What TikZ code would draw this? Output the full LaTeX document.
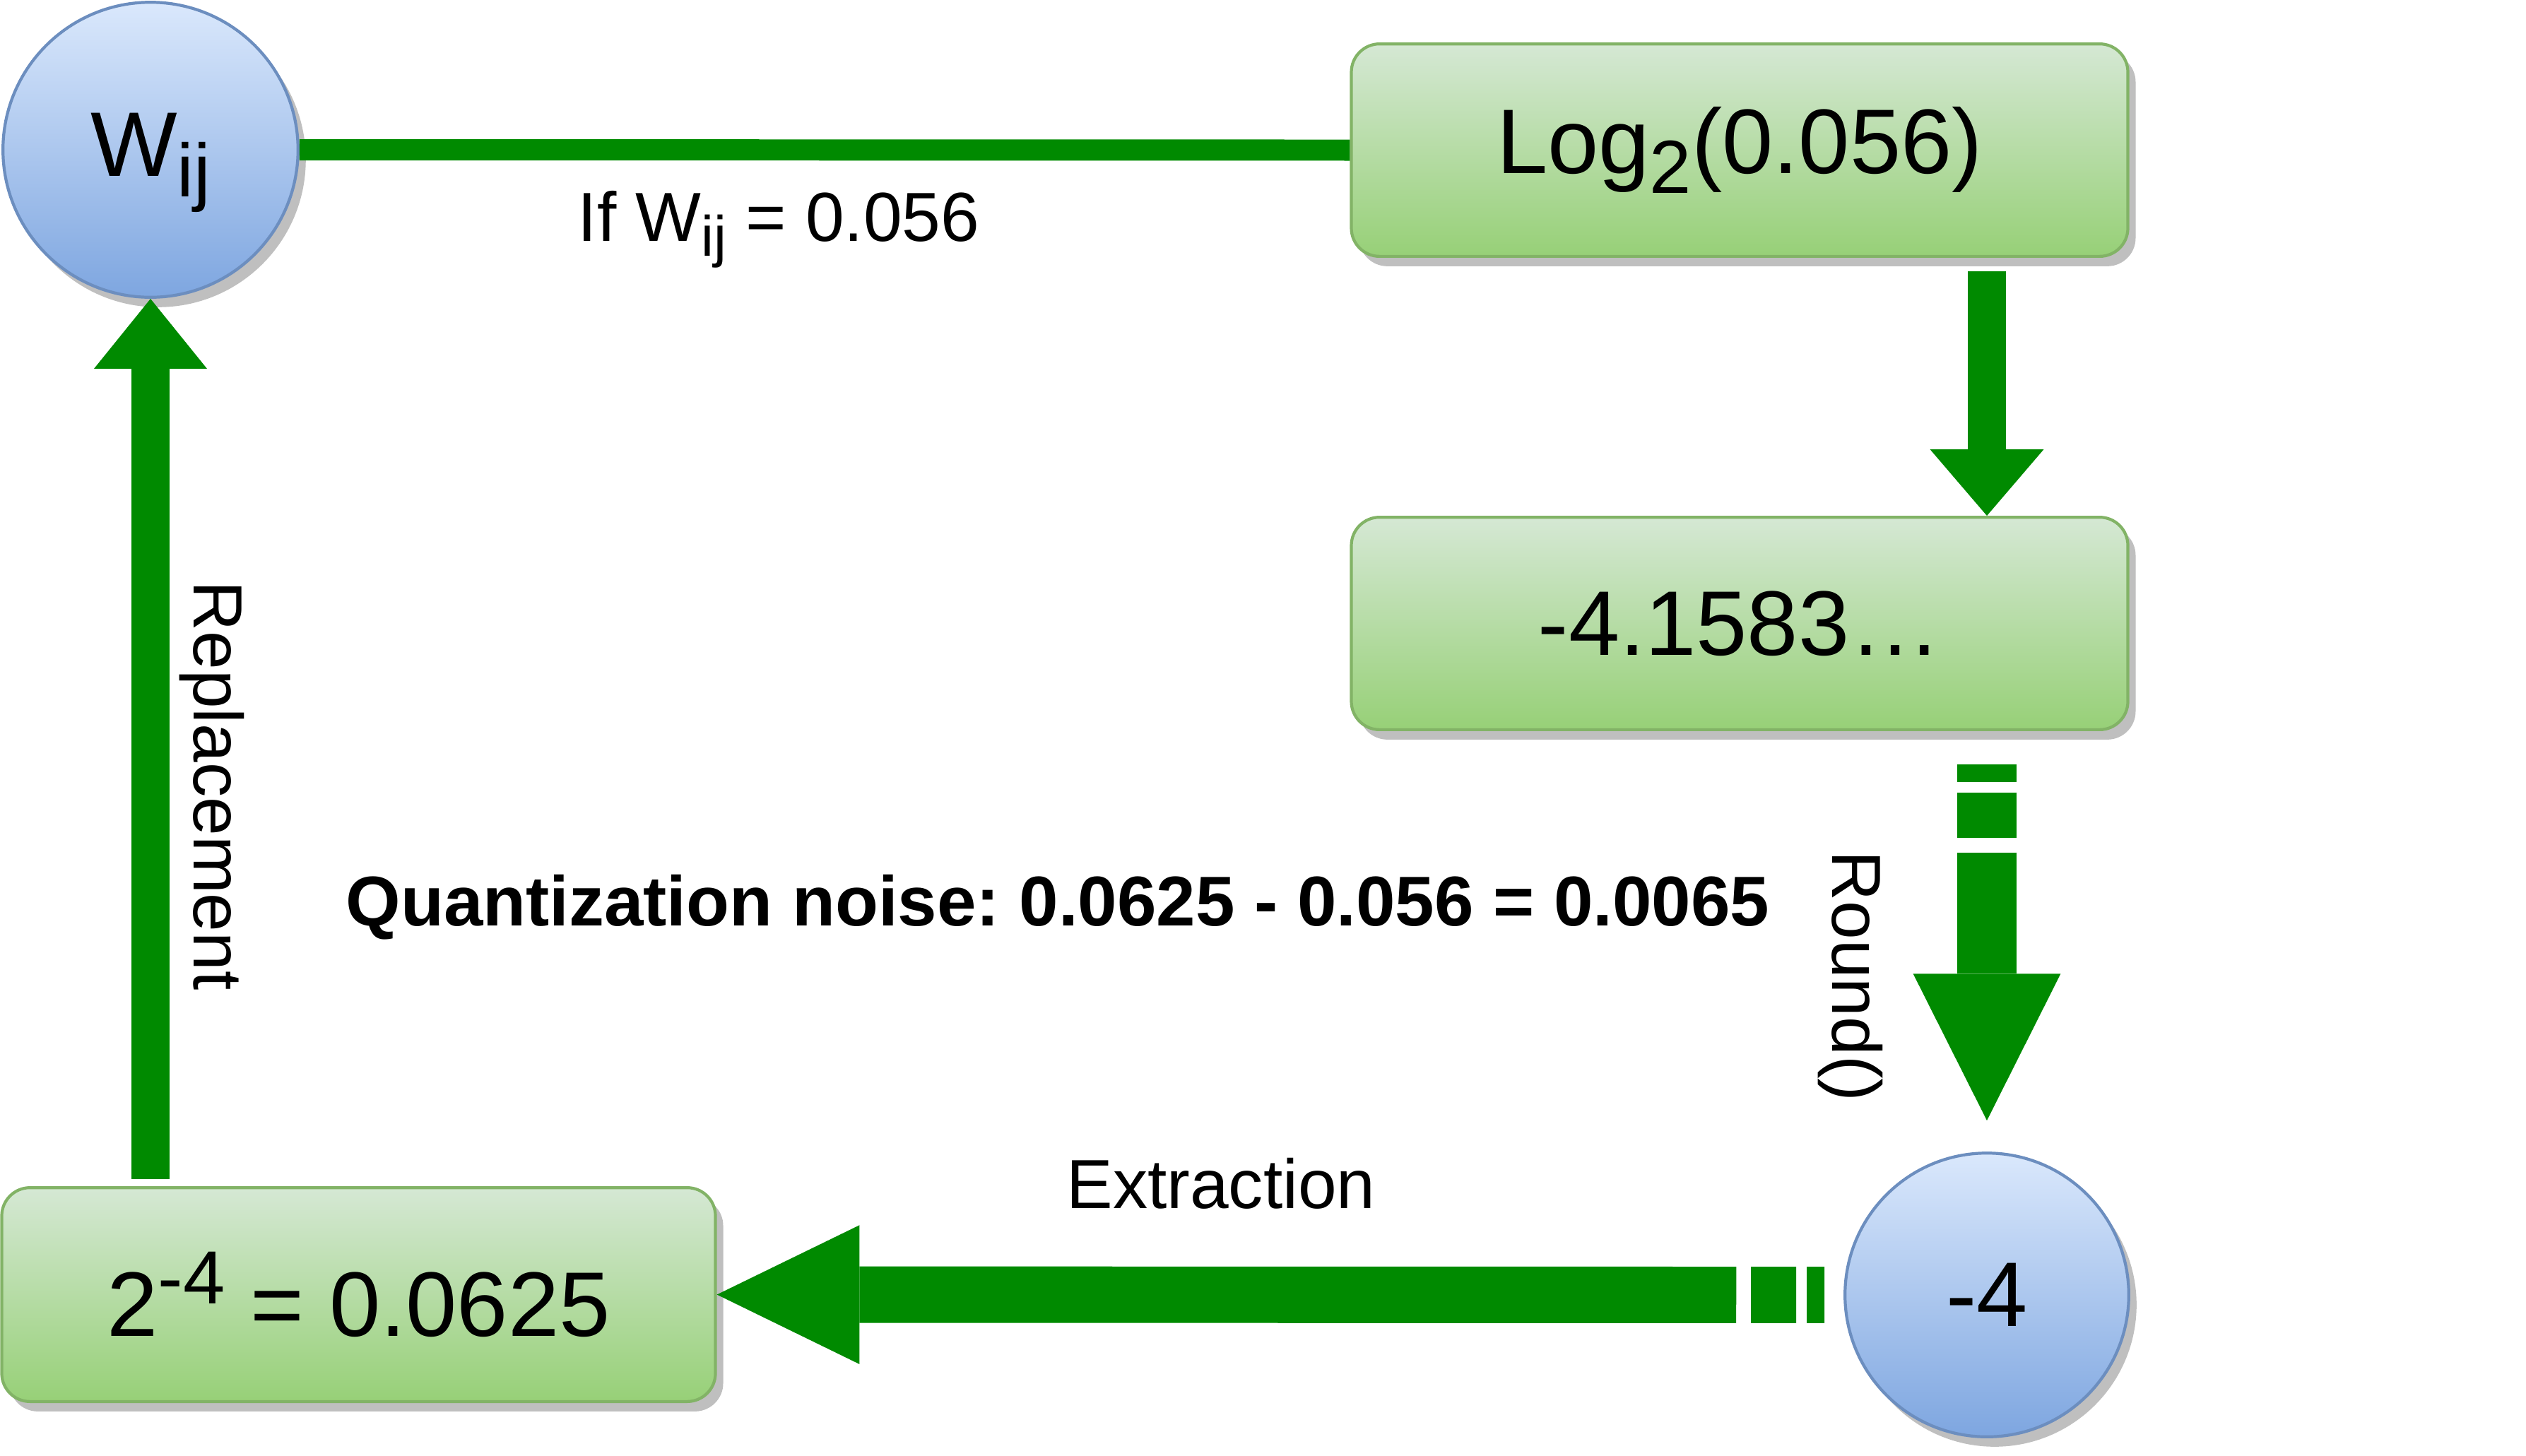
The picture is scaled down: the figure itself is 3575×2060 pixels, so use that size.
\documentclass[tikz,border=0pt]{standalone}
\usepackage{fontspec}
\setmainfont{Liberation Sans}
\usepackage{graphicx}
\usetikzlibrary{arrows.meta,shadows}
\definecolor{flowgreen}{HTML}{008A00}
\definecolor{boxtop}{HTML}{D5E8D4}
\definecolor{boxbot}{HTML}{97D077}
\definecolor{boxline}{HTML}{82B366}
\definecolor{dottop}{HTML}{DAE8FC}
\definecolor{dotbot}{HTML}{7EA6E0}
\definecolor{dotline}{HTML}{6C8EBF}
\newcommand\lowtxt[1]{\raisebox{-0.22em}{\scalebox{0.82}{#1}}}
\newcommand\hightxt[1]{\raisebox{0.36em}{\scalebox{0.82}{#1}}}
\frenchspacing
\tikzset{
    shadowed/.style={drop shadow={fill=black!25,opacity=1,shadow xshift=0.055cm,shadow yshift=-0.07cm}},
    valbox/.style={shadowed,draw=boxline,line width=0.6pt,top color=boxtop,bottom color=boxbot,
        rounded corners=0.2cm,inner sep=0pt,minimum width=5.5cm,minimum height=1.505cm,
        font=\fontsize{18.5}{22}\selectfont},
    valdot/.style={shadowed,circle,draw=dotline,line width=0.6pt,top color=dottop,bottom color=dotbot,
        inner sep=0pt,font=\fontsize{18.5}{22}\selectfont},
    lbl/.style={inner sep=0pt,anchor=base,font=\fontsize{14}{17}\selectfont},
    flow/.style={flowgreen,line width=0.27cm},
    fat/.style={flowgreen,line width=0.42cm,dash pattern=on 0.125cm off 0.075cm on 0.32cm off 0.105cm on 30cm}
}

\begin{document}
\begin{tikzpicture}[x=0.005cm,y=-0.005cm]
    \useasboundingbox (0,0) rectangle (3575,2060);
    \node [valdot,minimum size=2.09cm,text depth=0.2em] (wij) at (213,212) {W\lowtxt{ij}};
    \node [valbox] (logb) at (2462,212.5) {Log\lowtxt{2}(0.056)};
    \node [valbox] (frac) at (2462,882.5) {-4.1583…};
    \node [valdot,minimum size=2.01cm] (four) at (2812,1833) {-4};
    \node [valbox,minimum width=5.055cm,minimum height=1.515cm] (pow) at (507.5,1832.5) {2\hightxt{-4} = 0.0625};
    \node [lbl] (iflbl) at (1102,341) {If W\lowtxt{ij} = 0.056};
    \node [lbl] (extlbl) at (1728,1710) {Extraction};
    \node [lbl,font=\fontsize{14.2}{17}\selectfont\bfseries] (noise) at (1497,1310) {Quantization noise: 0.0625 - 0.056 = 0.0065};
    \node [lbl,rotate=-90] (replbl) at (274,1112) {Replacement};
    \node [lbl,rotate=-90] (rndlbl) at (2593,1382) {Round()};
    \draw [flowgreen,line width=0.15cm] (wij.east) -- (logb.west);
    \draw [flow,shorten <=0.095cm,-{Triangle[length=0.47cm,width=0.805cm,line width=0pt]}]
        (logb.south -| four) -- (frac.north -| four);
    \draw [fat,shorten <=0.235cm,shorten >=0.22cm,-{Triangle[length=1.04cm,width=1.045cm,line width=0pt]}]
        (frac.south -| four) -- (four.north);
    \draw [fat,line width=0.4cm,shorten <=0.135cm,-{Triangle[length=1.01cm,width=0.985cm,line width=0pt]}]
        (four.west) -- (pow.east);
    \draw [flow,shorten <=0.05cm,-{Triangle[length=0.495cm,width=0.8cm,line width=0pt]}]
        (pow.north -| wij) -- (wij.south);
\end{tikzpicture}
\end{document}
